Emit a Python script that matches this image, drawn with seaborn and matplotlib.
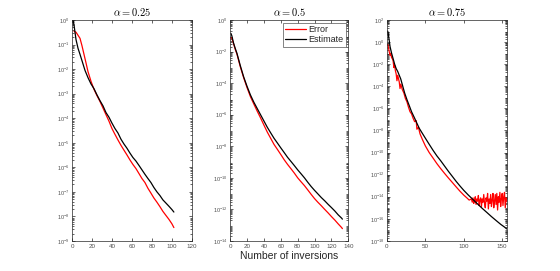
import numpy as np
import pandas as pd
import matplotlib
matplotlib.use("Agg")
import matplotlib.pyplot as plt
import seaborn as sns
from matplotlib.ticker import FixedLocator, LogLocator, NullFormatter

titles = ["$\\alpha = 0.25$", "$\\alpha = 0.5$", "$\\alpha = 0.75$"]
series_names = ["Error", "Estimate"]
x_label = "Number of inversions"

# ---- panel 1 (alpha = 0.25)
p1_est_x = [1, 2, 4, 6, 8, 10, 13, 16, 19, 22, 25, 28, 31, 34, 37, 40, 43, 46, 49, 52, 55, 58,
            61, 64, 67, 70, 73, 76, 79, 82, 85, 88, 91, 94, 97, 100, 102]
p1_est_y = [1.0, 6.3e-1, 1.6e-1, 7.1e-2, 4.0e-2, 2.2e-2, 8.9e-3, 4.5e-3, 2.5e-3, 1.6e-3, 8.9e-4,
            5.2e-4, 3.2e-4, 1.7e-4, 1.1e-4, 6.3e-5, 3.8e-5, 2.5e-5, 1.4e-5, 8.9e-6, 6.0e-6, 3.8e-6,
            2.5e-6, 1.8e-6, 1.2e-6, 7.9e-7, 5.2e-7, 3.5e-7, 2.4e-7, 1.5e-7, 1.0e-7, 7.1e-8, 4.7e-8,
            3.5e-8, 2.6e-8, 1.9e-8, 1.5e-8]
p1_err_x = [2, 4, 6, 8, 10, 12, 14, 16, 19, 22, 25, 28, 31, 34, 37, 40, 43, 46, 49, 52, 55, 58,
            61, 64, 67, 70, 73, 76, 79, 82, 85, 88, 91, 94, 97, 100, 102]
p1_err_y = [3.5e-1, 3.2e-1, 2.4e-1, 1.8e-1, 8.9e-2, 4.0e-2, 1.8e-2, 7.9e-3, 3.2e-3, 1.5e-3, 8.3e-4,
            4.8e-4, 2.6e-4, 1.4e-4, 7.6e-5, 3.8e-5, 2.2e-5, 1.3e-5, 7.9e-6, 5.0e-6, 3.2e-6, 2.0e-6,
            1.3e-6, 8.9e-7, 5.6e-7, 3.5e-7, 2.4e-7, 1.4e-7, 8.9e-8, 5.6e-8, 3.8e-8, 2.5e-8, 1.6e-8,
            1.1e-8, 7.6e-9, 5.0e-9, 3.5e-9]

# ---- panel 2 (alpha = 0.5)
p2_x = [1, 2, 4, 6, 8, 12, 16, 20, 24, 28, 32, 36, 40, 44, 48, 52, 56, 60, 64, 68, 72, 76, 80,
        84, 88, 92, 96, 100, 104, 108, 112, 116, 120, 124, 128, 132, 133]
p2_est_y = [1.4e-1, 1.0e-1, 3.5e-2, 1.6e-2, 7.9e-3, 1.3e-3, 2.5e-4, 6.3e-5, 1.8e-5, 6.3e-6, 2.5e-6,
            1.0e-6, 4.0e-7, 1.6e-7, 7.1e-8, 3.2e-8, 1.6e-8, 7.9e-9, 4.0e-9, 2.0e-9, 1.1e-9, 6.0e-10,
            3.2e-10, 1.8e-10, 1.0e-10, 5.2e-11, 2.8e-11, 1.6e-11, 9.5e-12, 5.6e-12, 3.5e-12, 2.1e-12,
            1.3e-12, 7.9e-13, 4.5e-13, 2.8e-13, 2.4e-13]
p2_err_y = [7.9e-2, 7.1e-2, 3.2e-2, 1.4e-2, 7.1e-3, 1.1e-3, 2.2e-4, 5.2e-5, 1.4e-5, 4.8e-6, 1.7e-6,
            6.3e-7, 2.2e-7, 7.9e-8, 3.2e-8, 1.3e-8, 6.3e-9, 3.0e-9, 1.4e-9, 7.1e-10, 3.8e-10, 2.0e-10,
            1.0e-10, 5.6e-11, 3.2e-11, 1.7e-11, 8.9e-12, 4.8e-12, 2.8e-12, 1.7e-12, 1.0e-12, 6.0e-13,
            3.5e-13, 2.1e-13, 1.2e-13, 7.1e-14, 6.0e-14]

# ---- panel 3 (alpha = 0.75)
p3_est_x = [1, 2, 3, 4, 6, 8, 10, 12, 14, 16, 18, 20, 23, 26, 29, 32, 36, 39, 42, 46, 50, 55, 60,
            65, 70, 75, 80, 85, 90, 95, 100, 106, 112, 118, 124, 130, 136, 142, 148, 153, 156]
p3_est_y = [1.0e1, 4.0, 1.3, 4.0e-1, 1.0e-1, 3.2e-2, 1.0e-2, 4.0e-3, 2.2e-3, 1.0e-3, 4.5e-4, 1.4e-4,
            2.5e-5, 6.3e-6, 1.8e-6, 5.0e-7, 1.3e-7, 4.5e-8, 1.6e-8, 5.6e-9, 2.0e-9, 5.6e-10, 1.6e-10,
            5.0e-11, 1.8e-11, 6.0e-12, 2.0e-12, 7.1e-13, 2.5e-13, 9.5e-14, 3.8e-14, 1.4e-14, 5.6e-15,
            2.2e-15, 8.9e-16, 3.8e-16, 1.6e-16, 7.1e-17, 3.2e-17, 1.8e-17, 1.2e-17]
p3_err_x = [1, 2, 3, 4, 5, 6, 7, 8, 9, 10, 11, 12, 13, 14, 16, 17, 18, 20, 22, 24, 26, 28, 30, 32,
            34, 36, 38, 39, 41, 43, 46, 50, 55, 60, 65, 70, 75, 80, 85, 90, 95, 100, 104, 107, 110,
            111, 112, 113, 114, 115, 116, 117, 118, 119, 120, 121, 122, 123, 124, 125, 126, 127,
            128, 129, 130, 131, 132, 133, 134, 135, 136, 137, 138, 139, 140, 141, 142, 143, 144,
            145, 146, 147, 148, 149, 150, 151, 152, 153, 154, 155, 156]
p3_err_y = [6.3e-1, 3.2e-1, 1.3e-1, 6.3e-2, 1.0e-1, 4.0e-2, 3.2e-2, 2.0e-2, 5.0e-3, 7.9e-3, 2.5e-3,
            1.3e-3, 3.2e-4, 1.0e-3, 2.5e-4, 6.3e-5, 1.6e-4, 5.0e-5, 2.5e-5, 7.9e-6, 4.0e-6, 1.3e-6,
            5.0e-7, 3.2e-7, 1.3e-7, 6.3e-8, 7.9e-8, 1.3e-8, 2.0e-8, 5.0e-9, 1.6e-9, 4.0e-10, 1.0e-10,
            3.2e-11, 1.0e-11, 3.5e-12, 1.3e-12, 5.0e-13, 2.0e-13, 7.9e-14, 3.2e-14, 1.4e-14, 7.9e-15,
            5.0e-15, 6.3e-15,
            3.2e-15, 7.9e-15, 2.5e-15, 5.0e-15, 1.0e-14, 2.0e-15, 6.3e-15, 4.0e-15, 1.3e-14, 1.6e-15,
            5.0e-15, 7.9e-15, 1.3e-15, 6.3e-15, 3.2e-15, 1.6e-14, 2.5e-15, 1.0e-15, 7.9e-15, 4.0e-15,
            2.0e-14, 7.9e-16, 6.3e-15, 2.5e-15, 1.6e-14, 1.3e-15, 5.0e-15, 2.0e-14, 1.0e-15, 4.0e-15,
            1.6e-14, 2.0e-15, 2.0e-14, 6.3e-16, 1.0e-14, 3.2e-15, 2.5e-14, 1.3e-15, 6.3e-15, 2.0e-14,
            1.6e-15, 1.0e-14, 2.5e-14, 1.0e-15, 7.9e-15, 4.0e-15]

panels = [
    dict(err_x=p1_err_x, err_y=p1_err_y, est_x=p1_est_x, est_y=p1_est_y,
         xlim=(0, 120), xticks=[0, 20, 40, 60, 80, 100, 120], ylim=(1e-9, 1e0),
         yexp=list(range(-9, 1))),
    dict(err_x=p2_x, err_y=p2_err_y, est_x=p2_x, est_y=p2_est_y,
         xlim=(0, 140), xticks=[0, 20, 40, 60, 80, 100, 120, 140], ylim=(1e-14, 1e0),
         yexp=list(range(-14, 1, 2))),
    dict(err_x=p3_err_x, err_y=p3_err_y, est_x=p3_est_x, est_y=p3_est_y,
         xlim=(0, 156), xticks=[0, 50, 100, 150], ylim=(1e-18, 1e2),
         yexp=list(range(-18, 3, 2))),
]

sns.set_style("white")
plt.rcParams["font.family"] = ["Liberation Sans", "DejaVu Sans"]
plt.rcParams["mathtext.fontset"] = "cm"

fig = plt.figure(figsize=(5.6, 2.71), dpi=100)
lefts = [0.1286, 0.411, 0.691]
widths = [0.214, 0.211, 0.214]
axcol = "#262626"
palette = {"Error": "#ff0000", "Estimate": "#000000"}

for i, p in enumerate(panels):
    ax = fig.add_axes([lefts[i], 0.111, widths[i], 0.815])
    df = pd.concat([
        pd.DataFrame({"x": p["err_x"], "y": p["err_y"], "s": series_names[0]}),
        pd.DataFrame({"x": p["est_x"], "y": p["est_y"], "s": series_names[1]}),
    ], ignore_index=True)
    sns.lineplot(data=df, x="x", y="y", hue="s", palette=palette, estimator=None,
                 sort=False, linewidth=0.9, ax=ax, legend=(i == 1))
    ax.set_yscale("log")
    ax.set_xlim(*p["xlim"])
    ax.set_ylim(*p["ylim"])
    ax.set_xticks(p["xticks"])
    ax.yaxis.set_major_locator(FixedLocator([10.0 ** k for k in p["yexp"]]))
    ax.yaxis.set_minor_locator(LogLocator(base=10, subs=np.arange(2, 10), numticks=40))
    ax.yaxis.set_minor_formatter(NullFormatter())
    ax.set_xlabel("")
    ax.set_ylabel("")
    ax.set_title(titles[i], fontsize=7.5, pad=3, color="#000000")
    for sp in ax.spines.values():
        sp.set_linewidth(0.5)
        sp.set_color(axcol)
        sp.set_visible(True)
    ax.tick_params(axis="both", which="both", direction="in", top=True, right=True,
                   bottom=True, left=True, colors=axcol, width=0.5, labelsize=4,
                   labelcolor="#505050", pad=2)
    ax.tick_params(axis="both", which="major", length=2.5)
    ax.tick_params(axis="both", which="minor", length=1.3)
    ax.tick_params(axis="x", labelsize=4.5)
    if i == 1:
        ax.set_xlabel(x_label, fontsize=7.5, color="#262626", labelpad=2)
        leg = ax.legend(loc="upper right", fontsize=6.5, frameon=True, fancybox=False,
                        borderpad=0.25, handlelength=2.4, handletextpad=0.2,
                        labelspacing=0.15, borderaxespad=0.3)
        leg.get_frame().set_edgecolor(axcol)
        leg.get_frame().set_linewidth(0.5)
        leg.set_title(None)

fig.savefig("out.png", dpi=100)
